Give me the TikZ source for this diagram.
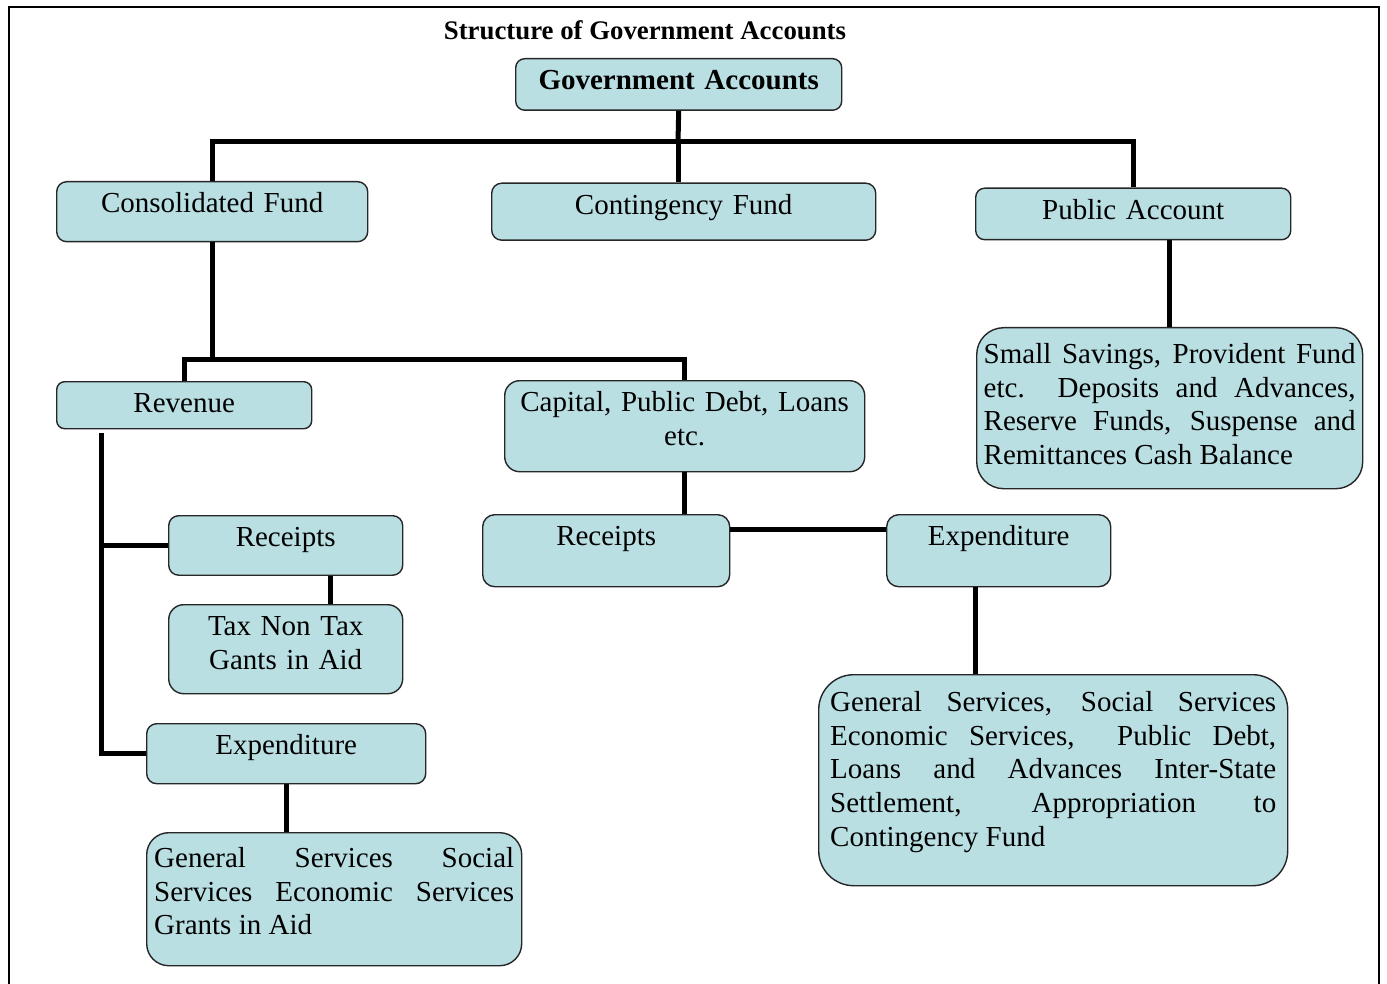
\documentclass[tikz,border=0pt]{standalone}
\usepackage{fontspec}
\setmainfont{Liberation Serif}
\definecolor{accfill}{RGB}{185,223,227}

\begin{document}
\begin{tikzpicture}[x=0.5pt,y=-0.5pt,
    acc/.style={draw=black!85,line width=0.7pt,fill=accfill,rounded corners=5pt,
        anchor=north west,inner sep=0pt,align=center,text height=15.5pt,
        font=\fontsize{14.5pt}{16.8pt}\selectfont},
    link/.style={line width=2.5pt}]
\useasboundingbox (0,0) rectangle (1387,984);
\draw[line width=1pt] (9,984) -- (9,7) -- (1379,7) -- (1379,984);

\node[anchor=base,font=\fontsize{13.4pt}{15pt}\selectfont\bfseries] (title) at (645,40) {Structure of Government Accounts};

% top level
\node[acc,minimum width=163pt,text width=160pt,text depth=10.25pt,rounded corners=4.5pt,
      font=\fontsize{14.5pt}{16.8pt}\selectfont\bfseries] (GA) at (515,58) {Government Accounts};
\node[acc,minimum width=155.5pt,text width=150pt,text depth=14.5pt] (CF) at (56,181) {Consolidated Fund};
\node[acc,minimum width=192pt,text width=185pt,text depth=13pt] (CtF) at (491,182.5) {Contingency Fund};
\node[acc,minimum width=157.5pt,text width=150pt,text depth=10.25pt,rounded corners=4.5pt] (PA) at (975,187.5) {Public Account};
\node[acc,minimum width=193pt,text width=186pt,text height=18pt,text depth=62.5pt,rounded corners=13.5pt,align=justify] (PAd) at (976,327)
    {Small Savings, Provident Fund\linebreak etc.\ \ Deposits and Advances,\linebreak Reserve Funds, Suspense and\linebreak Remittances Cash Balance};

% consolidated fund
\node[acc,minimum width=127.5pt,text width=120pt,text depth=8pt,rounded corners=4pt] (Rev) at (56,381) {Revenue};
\node[acc,minimum width=180pt,text width=176pt,text depth=30pt,rounded corners=7.5pt] (Cap) at (504,380) {Capital, Public Debt, Loans\\etc.};

% revenue side
\node[acc,minimum width=117pt,text width=110pt,text depth=14.25pt] (RR) at (168,515) {Receipts};
\node[acc,minimum width=117pt,text width=110pt,text depth=29pt,rounded corners=7.5pt] (RRd) at (168,604) {Tax Non Tax\\Gants in Aid};
\node[acc,minimum width=139.5pt,text width=130pt,text depth=14.5pt] (RE) at (146,723) {Expenditure};
\node[acc,minimum width=187.5pt,text width=180pt,text height=17.5pt,text depth=49pt,rounded corners=11pt,align=justify] (REd) at (146,832)
    {General Services Social\linebreak Services Economic Services\linebreak Grants in Aid};

% capital side
\node[acc,minimum width=123.5pt,text width=115pt,text depth=20.5pt,rounded corners=6pt] (CR) at (482,514) {Receipts};
\node[acc,minimum width=112pt,text width=105pt,text depth=20.5pt,rounded corners=6pt] (CE) at (886,514) {Expenditure};
\node[acc,minimum width=234.5pt,text width=223pt,text height=18.5pt,text depth=87pt,rounded corners=17.5pt,align=justify] (CEd) at (818,674)
    {General Services, Social Services\linebreak Economic Services,\ \ Public Debt,\linebreak Loans and Advances Inter-State\linebreak Settlement, Appropriation to\linebreak Contingency Fund};

% connectors
\coordinate (GAbar) at (678,142);
\draw[link] (GA.south) -- (GAbar);
\draw[link] (CF.north) |- (GAbar) -| (PA.north);
\draw[link] (GAbar) -- (GAbar |- CtF.north);
\draw[link] (PAd.north) -- (PAd.north |- PA.south);

\coordinate (CFbar) at (212,359);
\draw[link] (CF.south) -- (CF.south |- CFbar);
\draw[link] (Rev.north) |- (CFbar) -| (Cap.north);

\coordinate (revtrunk) at (101,433);
\draw[link] (revtrunk) |- (RE.west);
\draw[link] (revtrunk |- RR.west) -- (RR.west);
\draw[link] ([xshift=22.5pt]RR.south) -- ([xshift=22.5pt]RRd.north);
\draw[link] (RE.south) -- (RE.south |- REd.north);

\draw[link] (Cap.south) -- (Cap.south |- CR.north);
\coordinate (capbar) at (729,529);
\draw[link] (CR.east |- capbar) -- (CE.west |- capbar);
\coordinate (CEdrop) at (975,600);
\draw[link] (CEdrop |- CE.south) -- (CEdrop |- CEd.north);
\end{tikzpicture}
\end{document}
